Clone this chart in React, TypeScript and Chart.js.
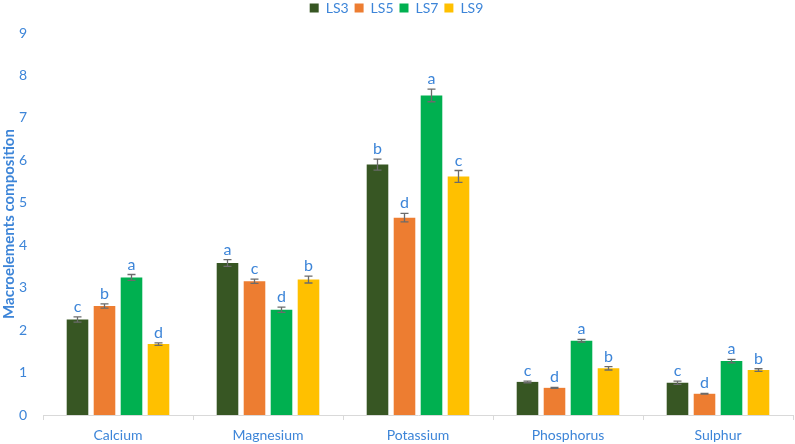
import React, { useEffect, useRef } from "react";
import { Chart, registerables } from "chart.js";

Chart.register(...registerables);

const categories = ["Calcium", "Magnesium", "Potassium", "Phosphorus", "Sulphur"];
const seriesNames = ["LS3", "LS5", "LS7", "LS9"];
const LS3 = [2.25, 3.58, 5.9, 0.78, 0.76];
const LS5 = [2.57, 3.15, 4.65, 0.64, 0.5];
const LS7 = [3.24, 2.48, 7.53, 1.75, 1.27];
const LS9 = [1.67, 3.19, 5.62, 1.1, 1.06];
const LS3err = [0.06, 0.08, 0.13, 0.02, 0.04];
const LS5err = [0.05, 0.05, 0.1, 0.01, 0.01];
const LS7err = [0.07, 0.06, 0.15, 0.03, 0.04];
const LS9err = [0.03, 0.08, 0.14, 0.04, 0.03];
const LS3letters = ["c", "a", "b", "c", "c"];
const LS5letters = ["b", "c", "d", "d", "d"];
const LS7letters = ["a", "d", "a", "a", "a"];
const LS9letters = ["d", "b", "c", "b", "b"];
const yTicks = [0, 1, 2, 3, 4, 5, 6, 7, 8, 9];

const colors = ["#375623", "#ED7D31", "#00B050", "#FFC000"];
const values = [LS3, LS5, LS7, LS9];
const errors = [LS3err, LS5err, LS7err, LS9err];
const letters = [LS3letters, LS5letters, LS7letters, LS9letters];
const BLUE = "#3D85D8";
const FONT = "Lato, 'Open Sans', sans-serif";

const errorPlugin = {
  id: "errorLetters",
  afterDatasetsDraw(chart: any) {
    const ctx = chart.ctx;
    const y = chart.scales.y;
    chart.data.datasets.forEach((ds: any, di: number) => {
      const meta = chart.getDatasetMeta(di);
      meta.data.forEach((bar: any, i: number) => {
        const v = values[di][i];
        const e = errors[di][i];
        const yTop = y.getPixelForValue(v + e);
        const yBot = y.getPixelForValue(v - e);
        const x = bar.x;
        ctx.save();
        ctx.strokeStyle = "#6b6b6b";
        ctx.lineWidth = 1.3;
        ctx.beginPath();
        ctx.moveTo(x, yTop);
        ctx.lineTo(x, yBot);
        ctx.moveTo(x - 4, yTop);
        ctx.lineTo(x + 4, yTop);
        ctx.moveTo(x - 4, yBot);
        ctx.lineTo(x + 4, yBot);
        ctx.stroke();
        ctx.fillStyle = BLUE;
        ctx.font = "16px " + FONT;
        ctx.textAlign = "center";
        ctx.textBaseline = "alphabetic";
        ctx.fillText(letters[di][i], x, yTop - 5);
        ctx.restore();
      });
    });
  },
};

const legendPad = {
  id: "legendPad",
  beforeInit(chart: any) {
    const lg = chart.legend;
    const origFit = lg.fit;
    lg.fit = function () {
      origFit.call(this);
      this.height = 33;
    };
    const origDraw = lg.draw;
    lg.draw = function (...args: any[]) {
      const ctx = chart.ctx;
      ctx.save();
      ctx.translate(0, -5);
      origDraw.apply(this, args);
      ctx.restore();
    };
  },
};

export default function App() {
  const ref = useRef<HTMLCanvasElement>(null);
  useEffect(() => {
    document.body.style.margin = "0";
    const chart = new Chart(ref.current!, {
      type: "bar",
      data: {
        labels: categories,
        datasets: seriesNames.map((n, i) => ({
          label: n,
          data: values[i],
          backgroundColor: colors[i],
          borderWidth: 0,
          barPercentage: 0.8,
          categoryPercentage: 0.72,
        })),
      },
      options: {
        animation: false,
        responsive: false,
        maintainAspectRatio: false,
        layout: { padding: { left: 0, right: 2, top: 0, bottom: 0 } },
        plugins: {
          legend: {
            position: "top",
            labels: {
              boxWidth: 9,
              boxHeight: 9,
              color: BLUE,
              font: { size: 14, family: FONT },
              padding: 6,
            },
          },
          tooltip: { enabled: false },
        },
        scales: {
          x: {
            grid: {
              display: true,
              offset: true,
              drawOnChartArea: false,
              drawTicks: true,
              tickLength: 5,
              color: "#d9d9d9",
            },
            border: { display: true, color: "#d9d9d9" },
            ticks: { color: BLUE, font: { size: 14, family: FONT }, padding: 7 },
            afterFit(scale: any) {
              scale.height = 29;
            },
          },
          y: {
            min: 0,
            max: 9,
            afterBuildTicks(scale: any) {
              scale.ticks = yTicks.map((v) => ({ value: v }));
            },
            afterFit(scale: any) {
              scale.width = 43;
            },
            grid: { display: false },
            border: { display: false },
            ticks: { color: BLUE, font: { size: 14, family: FONT }, padding: 8 },
            title: {
              display: true,
              text: "Macroelements composition",
              color: BLUE,
              font: { size: 15, family: FONT, weight: "bold" },
              padding: 0,
            },
          },
        },
      },
      plugins: [errorPlugin, legendPad],
    });
    return () => chart.destroy();
  }, []);
  return <canvas ref={ref} width={795} height={444} style={{ display: "block" }} />;
}
